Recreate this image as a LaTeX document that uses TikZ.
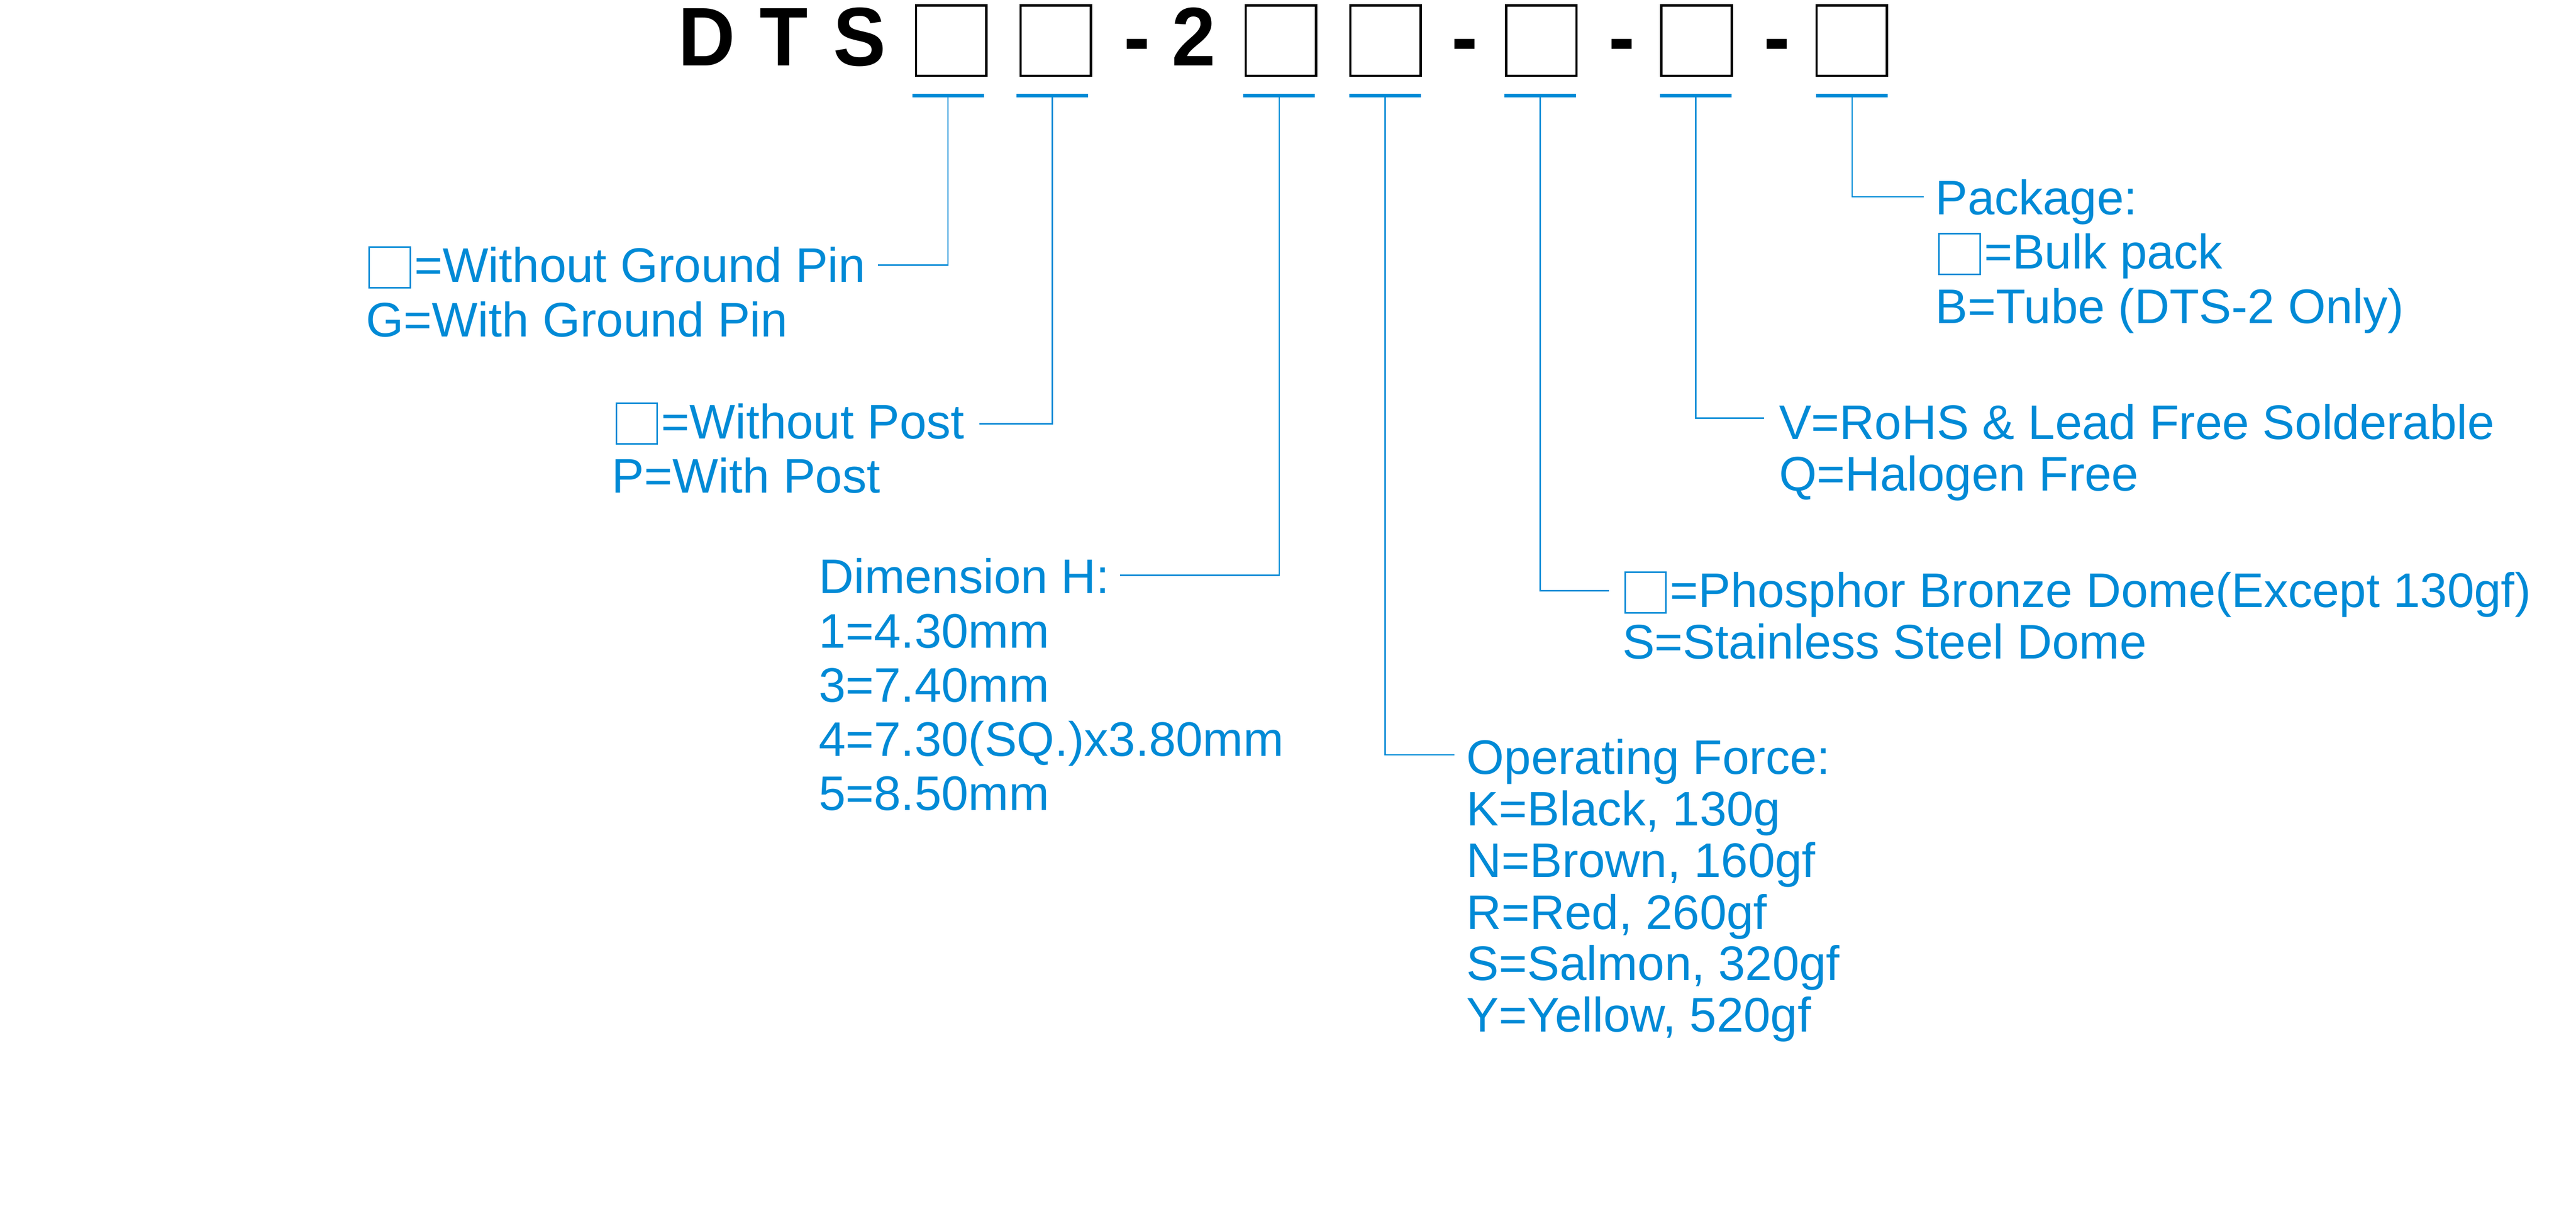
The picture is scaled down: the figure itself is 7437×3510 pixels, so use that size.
\documentclass[tikz,border=0pt]{standalone}
\usepackage{fontspec}
\setmainfont{Liberation Sans}
\usetikzlibrary{calc}
\definecolor{cblue}{RGB}{0,138,214}
\newcommand{\ebox}{\raisebox{-1.35mm}{\setlength{\fboxsep}{0pt}\setlength{\fboxrule}{0.45mm}\fbox{\rule{0pt}{11.3mm}\hspace{11.4mm}}}\hspace{0.9mm}}
\newcommand{\hx}[1]{\scalebox{0.95}[1]{#1}}
\begin{document}
\begin{tikzpicture}[x=0.1mm,y=-0.1mm,
  lbl/.style={anchor=base west,inner sep=0pt,outer sep=0pt,text=cblue,font=\fontsize{39.83pt}{47pt}\selectfont},
  hdr/.style={anchor=base,inner sep=0pt,outer sep=0pt,font=\fontsize{68.3pt}{80pt}\selectfont\bfseries},
  slot/.style={draw=black,line width=0.7mm,minimum width=20.3mm,minimum height=20.3mm,inner sep=0pt,outer sep=0pt},
  bar/.style={fill=cblue,minimum width=20.7mm,minimum height=1.1mm,inner sep=0pt,outer sep=0pt},
  conn/.style={draw=cblue,line width=0.4mm}]
\fill[white] (0,0) rectangle (7437,3510);
\useasboundingbox (0,0) rectangle (7437,3510);
% header
\node[hdr] (hD) at (2040,190) {\hx{D}};
\node[hdr] (hT) at (2263,190) {\hx{T}};
\node[hdr] (hS) at (2482,190) {\hx{S}};
\node[hdr] (hm1) at (3282,190) {\hx{-}};
\node[hdr] (h2) at (3447,190) {\hx{2}};
\node[hdr] (hm2) at (4229,190) {\hx{-}};
\node[hdr] (hm3) at (4683,190) {\hx{-}};
\node[hdr] (hm4) at (5130,190) {\hx{-}};
\node[slot] (box1) at (2746,117) {};
\node[slot] (box2) at (3048,117) {};
\node[slot] (box3) at (3698,117) {};
\node[slot] (box4) at (4000,117) {};
\node[slot] (box5) at (4450,117) {};
\node[slot] (box6) at (4898,117) {};
\node[slot] (box7) at (5346,117) {};
\node[bar] (bar1) at (2737,275.5) {};
\node[bar] (bar2) at (3038,275.5) {};
\node[bar] (bar3) at (3693,275.5) {};
\node[bar] (bar4) at (3999,275.5) {};
\node[bar] (bar5) at (4447,275.5) {};
\node[bar] (bar6) at (4896,275.5) {};
\node[bar] (bar7) at (5347,275.5) {};
% labels
\node[lbl] (g1) at (1064,815) {\ebox=Without Ground Pin};
\node[lbl] (g2) at (1057,972) {G=With Ground Pin};
\node[lbl] (p1) at (1777,1266) {\ebox=Without Post};
\node[lbl] (p2) at (1767,1423) {P=With Post};
\node[lbl] (dh1) at (2364,1713) {Dimension H:};
\node[lbl] (dh2) at (2364,1870) {1=4.30mm};
\node[lbl] (dh3) at (2364,2026) {3=7.40mm};
\node[lbl] (dh4) at (2364,2182) {4=7.30(SQ.)x3.80mm};
\node[lbl] (dh5) at (2364,2339) {5=8.50mm};
\node[lbl] (f1) at (4234,2235) {Operating Force:};
\node[lbl] (f2) at (4234,2384) {K=Black, 130g};
\node[lbl] (f3) at (4234,2533) {N=Brown, 160gf};
\node[lbl] (f4) at (4234,2682) {R=Red, 260gf};
\node[lbl] (f5) at (4234,2830) {S=Salmon, 320gf};
\node[lbl] (f6) at (4234,2979) {Y=Yellow, 520gf};
\node[lbl] (d1) at (4689,1753) {\ebox=Phosphor Bronze Dome(Except 130gf)};
\node[lbl] (d2) at (4684,1901) {S=Stainless Steel Dome};
\node[lbl] (v1) at (5136,1268) {V=RoHS \& Lead Free Solderable};
\node[lbl] (v2) at (5136,1416) {Q=Halogen Free};
\node[lbl] (k1) at (5587,620) {Package:};
\node[lbl] (k2) at (5596,776) {\ebox=Bulk pack};
\node[lbl] (k3) at (5588,933) {B=Tube (DTS-2 Only)};
% connectors
\draw[conn] (bar1.south) |- ($(g1.base east)+(35,-50)$);
\draw[conn] (bar2.south) |- ($(p1.base east)+(43,-43)$);
\draw[conn] (bar3.south) |- ($(dh1.base east)+(29,-52)$);
\draw[conn] (bar4.south) |- ($(f1.base west)+(-35,-56)$);
\draw[conn] (bar5.south) |- ($(d1.base west)+(-44,-48)$);
\draw[conn] (bar6.south) |- ($(v1.base west)+(-43,-61)$);
\draw[conn] (bar7.south) |- ($(k1.base west)+(-33,-52)$);
\end{tikzpicture}
\end{document}
